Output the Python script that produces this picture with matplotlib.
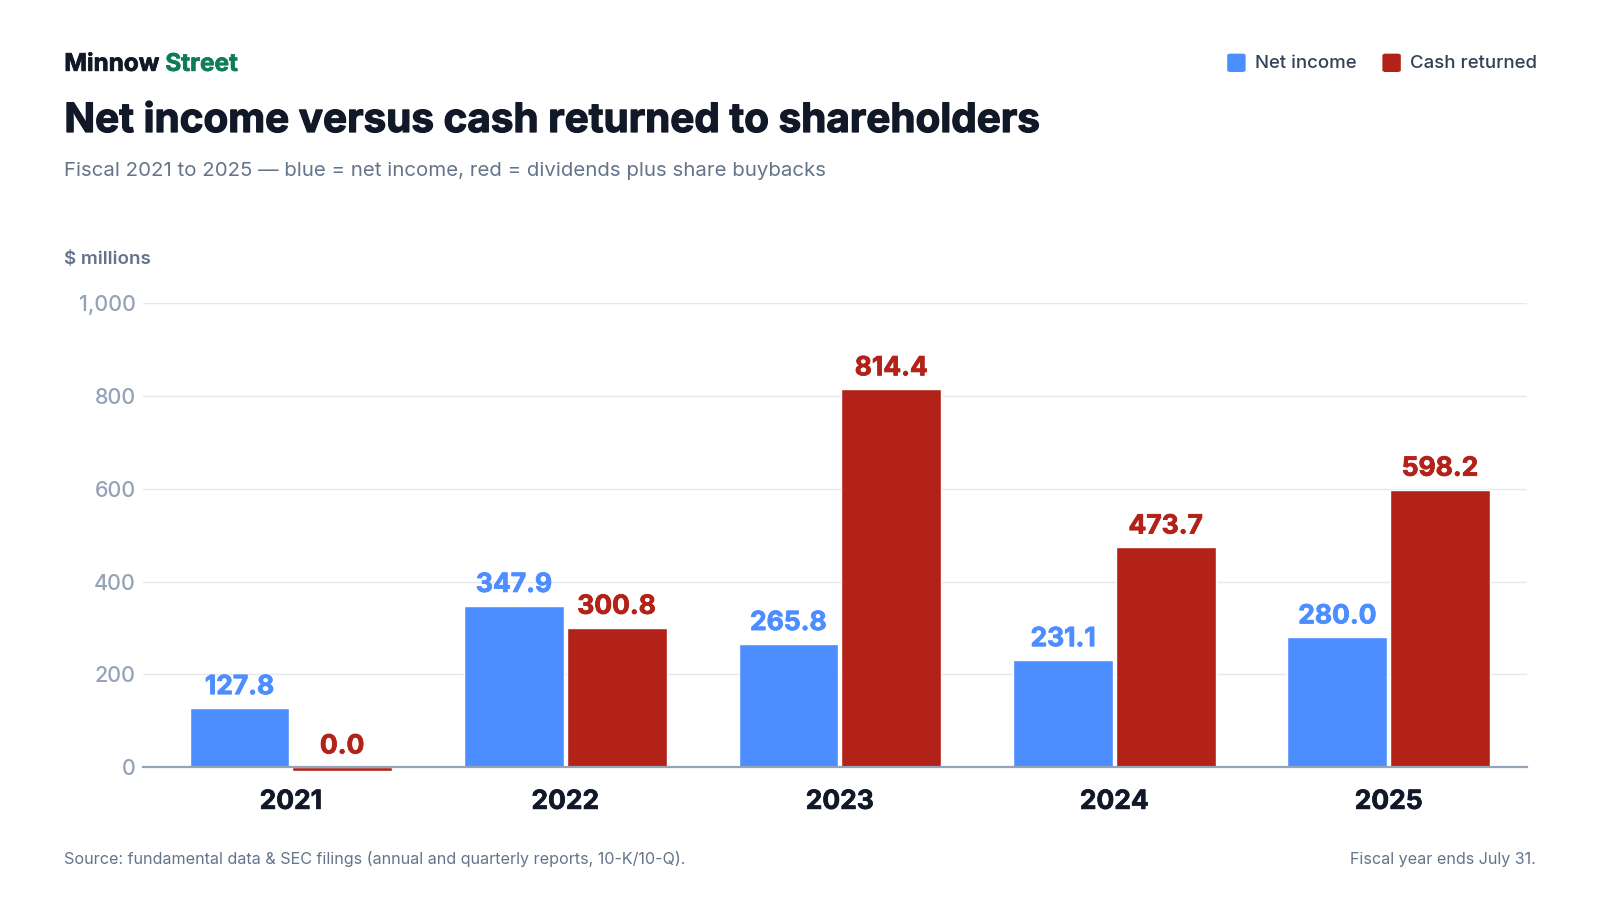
import matplotlib
matplotlib.use('Agg')
import matplotlib.pyplot as plt
import matplotlib.patheffects as pe
import numpy as np
from matplotlib.patches import FancyBboxPatch

plt.rcParams['font.family'] = ['Inter', 'DejaVu Sans']

years = ['2021', '2022', '2023', '2024', '2025']
net_income = [127.8, 347.9, 265.8, 231.1, 280.0]
cash_returned = [0.0, 300.8, 814.4, 473.7, 598.2]
y_ticks = [0, 200, 400, 600, 800, 1000]

BLUE = '#4c8dff'
RED = '#b22218'
DARK = '#111827'
GREY = '#64748b'
LIGHT = '#94a3b8'


def thick(col, lw=0.7):
    # fake an extra-bold weight
    return [pe.withStroke(linewidth=lw, foreground=col)]


fig = plt.figure(figsize=(16, 9), dpi=100)
ax = fig.add_axes([0.0893, 0.1474, 0.8648, 0.5159])

x = np.arange(len(years))
w = 0.364
off = 0.187

ax.bar(x - off, net_income, w, color=BLUE, edgecolor='white', linewidth=1, zorder=3)
# zero values still get a thin sliver below the baseline
red_vals = [v if v != 0 else -7 for v in cash_returned]
red_bars = ax.bar(x + off, red_vals, w, color=RED, edgecolor='white', linewidth=1, zorder=3)
for b in red_bars:
    b.set_clip_on(False)

for xi, v in zip(x, net_income):
    ax.text(xi - off, v + 17, f'{v:.1f}', ha='center', va='bottom', color=BLUE,
            fontsize=19, fontweight='bold', zorder=4, path_effects=thick(BLUE, 0.6))
for xi, v in zip(x, cash_returned):
    ax.text(xi + off, v + 17, f'{v:.1f}', ha='center', va='bottom', color=RED,
            fontsize=19, fontweight='bold', zorder=4, path_effects=thick(RED, 0.6))

ax.set_xlim(-0.539, 4.502)
ax.set_ylim(0, 1000)
ax.set_yticks(y_ticks)
ax.set_yticklabels([f'{t:,}' for t in y_ticks])
ax.set_xticks(x)
ax.set_xticklabels(years)
ax.grid(axis='y', color='#e5e7eb', linewidth=1, zorder=0)
ax.set_axisbelow(True)
for s in ['top', 'right', 'left']:
    ax.spines[s].set_visible(False)
ax.spines['bottom'].set_color(LIGHT)
ax.spines['bottom'].set_linewidth(1.6)
ax.spines['bottom'].set_zorder(5)
ax.tick_params(axis='y', length=0, pad=5, labelsize=15.5, labelcolor=LIGHT)
ax.tick_params(axis='x', length=0, pad=15.5, labelsize=19, labelcolor=DARK)
for lbl in ax.get_yticklabels():
    lbl.set_fontweight('medium')
for lbl in ax.get_xticklabels():
    lbl.set_fontweight('bold')
    lbl.set_path_effects(thick(DARK, 0.5))

# header
t1 = fig.text(0.0402, 0.9285, 'Minnow ', fontsize=17.5, fontweight='bold', color=DARK,
              va='center', path_effects=thick(DARK, 0.5))
fig.canvas.draw()
bb = t1.get_window_extent()
fig.text(bb.x1 / fig.bbox.width, 0.9285, 'Street', fontsize=17.5, fontweight='bold',
         color='#0f7b5a', va='center', path_effects=thick('#0f7b5a', 0.5))

fig.text(0.0402, 0.865, 'Net income versus cash returned to shareholders', fontsize=29.1,
         fontweight='bold', color=DARK, va='center', path_effects=thick(DARK, 0.9))
fig.text(0.0402, 0.8095, 'Fiscal 2021 to 2025 \u2014 blue = net income, red = dividends plus share buybacks',
         fontsize=14.7, color=GREY, va='center')
fig.text(0.0402, 0.712, '$ millions', fontsize=13.5, fontweight='semibold', color=GREY, va='center')

# legend
for lx, label, col in [(0.767, 'Net income', BLUE), (0.864, 'Cash returned', RED)]:
    fig.patches.append(FancyBboxPatch((lx, 0.920), 0.0115, 0.0204,
                                      boxstyle='round,pad=0,rounding_size=0.002',
                                      transform=fig.transFigure, facecolor=col, edgecolor='none'))
    fig.text(lx + 0.0174, 0.930, label, fontsize=13.4, color='#334155', va='center',
             fontweight='medium')

# footer
fig.text(0.0402, 0.0455, 'Source: fundamental data & SEC filings (annual and quarterly reports, 10-K/10-Q).',
         fontsize=11.6, color=GREY, va='center')
fig.text(0.9598, 0.0455, 'Fiscal year ends July 31.', fontsize=11.6, color=GREY, va='center', ha='right')

fig.savefig('out.png', dpi=100, facecolor='white')
